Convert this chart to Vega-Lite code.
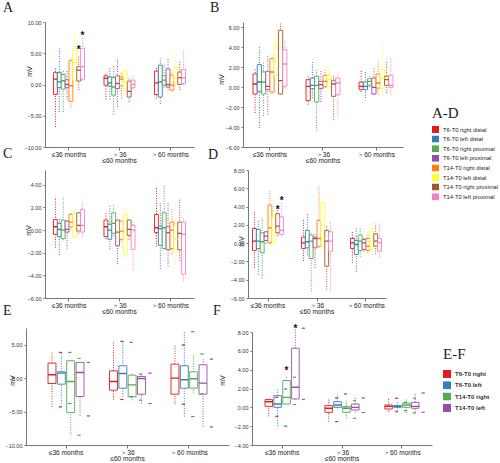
{
"$schema": "https://vega.github.io/schema/vega-lite/v6.json",
"padding": {"left": 3, "top": 0, "right": 0, "bottom": 0},
"config": {"view": {"stroke": null}, "axis": {"grid": false, "labelOverlap": false},
"axisY": {"labelFont": "Liberation Sans", "labelFontSize": 5.5, "labelColor": "#333", "tickSize": 2, "labelPadding": 2, "domainColor": "#777", "tickColor": "#777", "titleFont": "Liberation Sans", "titleFontSize": 7, "titleFontWeight": "normal", "titleColor": "#222"},
"axisX": {"labelFont": "Liberation Sans", "labelFontSize": 6.6, "labelAngle": 0, "labelColor": "#222", "tickSize": 3, "labelPadding": 1, "domainColor": "#777", "tickColor": "#777", "labelLineHeight": 6.2},
"title": {"font": "Liberation Serif", "fontSize": 14, "fontWeight": "normal", "anchor": "start", "frame": "group", "color": "#222"}},
"datasets": {
"A": [
{"g":"≤36 months","s":"T6-T0 right distal","min":-6.8,"q1":-1.6,"med":0.86,"q3":1.9,"max":2.6},
{"g":"≤36 months","s":"T6-T0 left distal","min":-4.4,"q1":-0.5,"med":0.43,"q3":1.9,"max":5.8},
{"g":"≤36 months","s":"T6-T0 right proximal","min":-4.4,"q1":-0.75,"med":0.6,"q3":1.6,"max":2.3},
{"g":"≤36 months","s":"T6-T0 left proximal","min":-2.4,"q1":-0.5,"med":0.0,"q3":0.75,"max":2.3},
{"g":"≤36 months","s":"T14-T0 right distal","min":-3.6,"q1":-2.7,"med":-0.2,"q3":3.8,"max":4.4},
{"g":"≤36 months","s":"T14-T0 left distal","min":0.3,"q1":0.7,"med":3.5,"q3":5.8,"max":8.5},
{"g":"≤36 months","s":"T14-T0 right proximal","min":-0.9,"q1":0.55,"med":2.3,"q3":2.85,"max":4.5},
{"g":"≤36 months","s":"T14-T0 left proximal","min":0.5,"q1":0.86,"med":2.85,"q3":5.8,"max":7.7},
{"g":"＞36 ≤60 months","s":"T6-T0 right distal","min":-2.4,"q1":-0.1,"med":0.97,"q3":1.4,"max":1.9},
{"g":"＞36 ≤60 months","s":"T6-T0 left distal","min":-2.4,"q1":-0.27,"med":0.27,"q3":1.2,"max":2.7},
{"g":"＞36 ≤60 months","s":"T6-T0 right proximal","min":-4.8,"q1":-1.7,"med":-0.4,"q3":1.1,"max":3.1},
{"g":"＞36 ≤60 months","s":"T6-T0 left proximal","min":-3.6,"q1":-0.65,"med":0.16,"q3":1.4,"max":4.1},
{"g":"＞36 ≤60 months","s":"T14-T0 right distal","min":-2.3,"q1":-0.2,"med":0.86,"q3":1.2,"max":1.9},
{"g":"＞36 ≤60 months","s":"T14-T0 left distal","min":-1.2,"q1":-0.65,"med":0.43,"q3":2.15,"max":2.85},
{"g":"＞36 ≤60 months","s":"T14-T0 right proximal","min":-2.8,"q1":-2.0,"med":-1.1,"q3":0.54,"max":1.2},
{"g":"＞36 ≤60 months","s":"T14-T0 left proximal","min":-0.75,"q1":-0.5,"med":0.0,"q3":0.7,"max":1.4},
{"g":"＞60 months","s":"T6-T0 right distal","min":-2.3,"q1":-1.6,"med":0.27,"q3":2.15,"max":2.85},
{"g":"＞60 months","s":"T6-T0 left distal","min":-3.1,"q1":-2.0,"med":0.43,"q3":3.1,"max":4.2},
{"g":"＞60 months","s":"T6-T0 right proximal","min":-0.6,"q1":-0.1,"med":0.7,"q3":1.4,"max":3.4},
{"g":"＞60 months","s":"T6-T0 left proximal","min":-0.9,"q1":-0.4,"med":0.0,"q3":2.5,"max":4.2},
{"g":"＞60 months","s":"T14-T0 right distal","min":-1.1,"q1":-0.9,"med":-0.1,"q3":1.5,"max":1.8},
{"g":"＞60 months","s":"T14-T0 left distal","min":-0.2,"q1":0.43,"med":1.2,"q3":2.7,"max":4.8},
{"g":"＞60 months","s":"T14-T0 right proximal","min":-0.9,"q1":0.0,"med":1.1,"q3":2.0,"max":3.7},
{"g":"＞60 months","s":"T14-T0 left proximal","min":-0.1,"q1":0.16,"med":1.07,"q3":2.4,"max":5.5}
],
"B": [
{"g":"≤36 months","s":"T6-T0 right distal","min":-2.6,"q1":-0.7,"med":0.3,"q3":1.3,"max":1.73},
{"g":"≤36 months","s":"T6-T0 left distal","min":-4.1,"q1":-0.43,"med":0.5,"q3":2.23,"max":4.07},
{"g":"≤36 months","s":"T6-T0 right proximal","min":-2.9,"q1":-0.7,"med":0.5,"q3":1.5,"max":2.57},
{"g":"≤36 months","s":"T6-T0 left proximal","min":-2.77,"q1":-0.27,"med":0.07,"q3":1.57,"max":3.17},
{"g":"≤36 months","s":"T14-T0 right distal","min":-0.7,"q1":-0.5,"med":1.5,"q3":2.83,"max":3.17},
{"g":"≤36 months","s":"T14-T0 left distal","min":0.6,"q1":1.17,"med":2.63,"q3":4.3,"max":5.97},
{"g":"≤36 months","s":"T14-T0 right proximal","min":-0.75,"q1":-0.7,"med":0.63,"q3":5.67,"max":6.5},
{"g":"≤36 months","s":"T14-T0 left proximal","min":-0.1,"q1":0.07,"med":2.3,"q3":3.73,"max":4.73},
{"g":"＞36 ≤60 months","s":"T6-T0 right distal","min":-1.77,"q1":-1.37,"med":0.07,"q3":0.73,"max":1.17},
{"g":"＞36 ≤60 months","s":"T6-T0 left distal","min":-1.1,"q1":-0.17,"med":0.17,"q3":0.9,"max":2.5},
{"g":"＞36 ≤60 months","s":"T6-T0 right proximal","min":-4.37,"q1":-1.5,"med":0.17,"q3":1.07,"max":1.83},
{"g":"＞36 ≤60 months","s":"T6-T0 left proximal","min":-1.5,"q1":-0.17,"med":0.23,"q3":0.57,"max":1.73},
{"g":"＞36 ≤60 months","s":"T14-T0 right distal","min":-0.1,"q1":0.07,"med":0.57,"q3":1.17,"max":1.83},
{"g":"＞36 ≤60 months","s":"T14-T0 left distal","min":-0.3,"q1":-0.03,"med":0.73,"q3":1.17,"max":2.07},
{"g":"＞36 ≤60 months","s":"T14-T0 right proximal","min":-3.27,"q1":-0.93,"med":0.3,"q3":0.63,"max":1.07},
{"g":"＞36 ≤60 months","s":"T14-T0 left proximal","min":-2.93,"q1":-0.77,"med":0.4,"q3":0.9,"max":1.4},
{"g":"＞60 months","s":"T6-T0 right distal","min":-0.5,"q1":-0.27,"med":0.07,"q3":0.5,"max":1.73},
{"g":"＞60 months","s":"T6-T0 left distal","min":-1.1,"q1":-0.27,"med":0.07,"q3":0.5,"max":1.63},
{"g":"＞60 months","s":"T6-T0 right proximal","min":0.0,"q1":0.17,"med":0.57,"q3":0.83,"max":1.17},
{"g":"＞60 months","s":"T6-T0 left proximal","min":-0.77,"q1":-0.7,"med":-0.03,"q3":0.9,"max":1.9},
{"g":"＞60 months","s":"T14-T0 right distal","min":-0.77,"q1":-0.1,"med":0.4,"q3":1.3,"max":2.57},
{"g":"＞60 months","s":"T14-T0 left distal","min":-0.93,"q1":-0.17,"med":0.9,"q3":1.73,"max":4.63},
{"g":"＞60 months","s":"T14-T0 right proximal","min":-0.6,"q1":0.17,"med":0.73,"q3":1.07,"max":2.63},
{"g":"＞60 months","s":"T14-T0 left proximal","min":-0.77,"q1":-0.03,"med":0.17,"q3":1.17,"max":2.9}
],
"C": [
{"g":"≤36 months","s":"T6-T0 right distal","min":-1.55,"q1":-0.38,"med":0.29,"q3":0.94,"max":2.9},
{"g":"≤36 months","s":"T6-T0 left distal","min":-2.2,"q1":-0.58,"med":0.06,"q3":0.58,"max":1.08},
{"g":"≤36 months","s":"T6-T0 right proximal","min":-0.9,"q1":-0.76,"med":0.0,"q3":0.88,"max":2.9},
{"g":"≤36 months","s":"T6-T0 left proximal","min":-1.64,"q1":-0.18,"med":0.06,"q3":0.79,"max":0.94},
{"g":"≤36 months","s":"T14-T0 right distal","min":0.1,"q1":0.29,"med":0.7,"q3":1.37,"max":1.52},
{"g":"≤36 months","s":"T14-T0 left distal","min":-0.75,"q1":-0.58,"med":0.35,"q3":1.46,"max":2.16},
{"g":"≤36 months","s":"T14-T0 right proximal","min":-0.3,"q1":-0.09,"med":0.41,"q3":1.52,"max":1.58},
{"g":"≤36 months","s":"T14-T0 left proximal","min":-0.58,"q1":-0.18,"med":0.41,"q3":1.81,"max":2.54},
{"g":"＞36 ≤60 months","s":"T6-T0 right distal","min":-0.8,"q1":-0.58,"med":0.29,"q3":0.88,"max":1.58},
{"g":"＞36 ≤60 months","s":"T6-T0 left distal","min":-1.7,"q1":-0.82,"med":0.0,"q3":0.5,"max":2.25},
{"g":"＞36 ≤60 months","s":"T6-T0 right proximal","min":-0.55,"q1":-0.29,"med":0.58,"q3":1.52,"max":2.25},
{"g":"＞36 ≤60 months","s":"T6-T0 left proximal","min":-3.0,"q1":-1.4,"med":-0.18,"q3":0.88,"max":0.94},
{"g":"＞36 ≤60 months","s":"T14-T0 right distal","min":-1.05,"q1":-0.82,"med":-0.09,"q3":0.79,"max":0.88},
{"g":"＞36 ≤60 months","s":"T14-T0 left distal","min":-2.57,"q1":-2.13,"med":-0.18,"q3":1.37,"max":2.1},
{"g":"＞36 ≤60 months","s":"T14-T0 right proximal","min":-0.85,"q1":-0.47,"med":0.06,"q3":0.88,"max":0.94},
{"g":"＞36 ≤60 months","s":"T14-T0 left proximal","min":-3.54,"q1":-1.7,"med":0.0,"q3":0.41,"max":0.7},
{"g":"＞60 months","s":"T6-T0 right distal","min":-1.46,"q1":-0.23,"med":0.2,"q3":1.37,"max":3.8},
{"g":"＞60 months","s":"T6-T0 left distal","min":-3.4,"q1":-1.35,"med":0.12,"q3":0.35,"max":2.4},
{"g":"＞60 months","s":"T6-T0 right proximal","min":-1.7,"q1":-1.64,"med":0.2,"q3":1.52,"max":3.92},
{"g":"＞60 months","s":"T6-T0 left proximal","min":-3.2,"q1":-1.75,"med":-0.23,"q3":0.29,"max":2.4},
{"g":"＞60 months","s":"T14-T0 right distal","min":-2.2,"q1":-1.64,"med":0.0,"q3":0.7,"max":1.96},
{"g":"＞60 months","s":"T14-T0 left distal","min":-3.0,"q1":-1.7,"med":-0.82,"q3":0.35,"max":1.08},
{"g":"＞60 months","s":"T14-T0 right proximal","min":-2.7,"q1":-1.75,"med":-0.29,"q3":0.7,"max":2.84},
{"g":"＞60 months","s":"T14-T0 left proximal","min":-4.56,"q1":-3.9,"med":-0.38,"q3":0.7,"max":1.08}
],
"D": [
{"g":"≤36 months","s":"T6-T0 right distal","min":-2.7,"q1":-0.8,"med":0.22,"q3":1.61,"max":3.58},
{"g":"≤36 months","s":"T6-T0 left distal","min":-3.44,"q1":-0.58,"med":0.22,"q3":1.5,"max":2.41},
{"g":"≤36 months","s":"T6-T0 right proximal","min":-3.87,"q1":-1.06,"med":0.15,"q3":1.13,"max":2.78},
{"g":"≤36 months","s":"T6-T0 left proximal","min":-0.1,"q1":0.29,"med":0.77,"q3":1.24,"max":1.32},
{"g":"≤36 months","s":"T14-T0 right distal","min":-0.1,"q1":0.04,"med":1.68,"q3":4.17,"max":5.88},
{"g":"≤36 months","s":"T14-T0 left distal","min":-0.33,"q1":0.15,"med":1.39,"q3":2.78,"max":3.69},
{"g":"≤36 months","s":"T14-T0 right proximal","min":0.77,"q1":1.13,"med":1.86,"q3":3.22,"max":3.87},
{"g":"≤36 months","s":"T14-T0 left proximal","min":0.7,"q1":0.95,"med":1.39,"q3":2.85,"max":4.42},
{"g":"＞36 ≤60 months","s":"T6-T0 right distal","min":-1.97,"q1":-0.58,"med":0.04,"q3":0.66,"max":2.6},
{"g":"＞36 ≤60 months","s":"T6-T0 left distal","min":-1.32,"q1":-0.51,"med":0.15,"q3":1.39,"max":3.33},
{"g":"＞36 ≤60 months","s":"T6-T0 right proximal","min":-5.26,"q1":-1.68,"med":0.22,"q3":0.88,"max":1.13},
{"g":"＞36 ≤60 months","s":"T6-T0 left proximal","min":-2.7,"q1":-0.51,"med":0.51,"q3":0.66,"max":1.13},
{"g":"＞36 ≤60 months","s":"T14-T0 right distal","min":-0.5,"q1":-0.33,"med":0.51,"q3":2.49,"max":6.36},
{"g":"＞36 ≤60 months","s":"T14-T0 left distal","min":-0.5,"q1":-0.33,"med":0.51,"q3":4.42,"max":5.0},
{"g":"＞36 ≤60 months","s":"T14-T0 right proximal","min":-5.08,"q1":-2.52,"med":0.22,"q3":1.39,"max":1.86},
{"g":"＞36 ≤60 months","s":"T14-T0 left proximal","min":-5.26,"q1":-0.88,"med":0.22,"q3":1.24,"max":2.23},
{"g":"＞60 months","s":"T6-T0 right distal","min":-2.16,"q1":-0.58,"med":0.04,"q3":0.51,"max":1.32},
{"g":"＞60 months","s":"T6-T0 left distal","min":-3.14,"q1":-1.24,"med":-0.15,"q3":0.29,"max":1.61},
{"g":"＞60 months","s":"T6-T0 right proximal","min":-1.5,"q1":-0.8,"med":0.22,"q3":0.88,"max":1.68},
{"g":"＞60 months","s":"T6-T0 left proximal","min":-0.9,"q1":-0.69,"med":0.04,"q3":0.4,"max":0.66},
{"g":"＞60 months","s":"T14-T0 right distal","min":-1.1,"q1":-0.8,"med":-0.33,"q3":0.51,"max":1.13},
{"g":"＞60 months","s":"T14-T0 left distal","min":-1.54,"q1":-0.69,"med":0.22,"q3":1.32,"max":2.12},
{"g":"＞60 months","s":"T14-T0 right proximal","min":-1.2,"q1":-0.33,"med":0.22,"q3":1.02,"max":2.12},
{"g":"＞60 months","s":"T14-T0 left proximal","min":-1.54,"q1":-0.88,"med":0.04,"q3":0.51,"max":2.23}
],
"E": [
{"g":"≤36 months","s":"T6-T0 right","min":-4.3,"q1":-0.8,"med":0.5,"q3":2.25,"max":3.85},
{"g":"≤36 months","s":"T6-T0 left","min":-3.8,"q1":-0.9,"med":0.75,"q3":0.95,"max":3.85},
{"g":"≤36 months","s":"T14-T0 right","min":-8.55,"q1":-5.15,"med":-0.5,"q3":2.6,"max":2.95},
{"g":"≤36 months","s":"T14-T0 left","min":-5.65,"q1":-2.75,"med":0.85,"q3":2.35,"max":2.35},
{"g":"＞36 ≤60 months","s":"T6-T0 right","min":-3.2,"q1":-1.8,"med":-0.5,"q3":1.1,"max":5.5},
{"g":"＞36 ≤60 months","s":"T6-T0 left","min":-2.75,"q1":-1.5,"med":0.7,"q3":1.85,"max":5.35},
{"g":"＞36 ≤60 months","s":"T14-T0 right","min":-3.3,"q1":-2.8,"med":-1.0,"q3":0.45,"max":0.6},
{"g":"＞36 ≤60 months","s":"T14-T0 left","min":-3.8,"q1":-2.4,"med":-0.05,"q3":0.25,"max":0.75},
{"g":"＞60 months","s":"T6-T0 right","min":-3.9,"q1":-2.4,"med":0.0,"q3":2.1,"max":4.95},
{"g":"＞60 months","s":"T6-T0 left","min":-5.75,"q1":-1.5,"med":-0.25,"q3":1.85,"max":6.95},
{"g":"＞60 months","s":"T14-T0 right","min":-2.3,"q1":-1.5,"med":-0.1,"q3":0.95,"max":3.6},
{"g":"＞60 months","s":"T14-T0 left","min":-7.3,"q1":-2.4,"med":-0.75,"q3":2.0,"max":2.85}
],
"F": [
{"g":"≤36 months","s":"T6-T0 right","min":-0.96,"q1":0.1,"med":0.6,"q3":0.82,"max":1.06},
{"g":"≤36 months","s":"T6-T0 left","min":-2.0,"q1":0.0,"med":0.35,"q3":1.24,"max":1.95},
{"g":"≤36 months","s":"T14-T0 right","min":0.3,"q1":0.35,"med":1.06,"q3":2.84,"max":3.2},
{"g":"≤36 months","s":"T14-T0 left","min":0.85,"q1":0.89,"med":2.13,"q3":6.28,"max":8.4},
{"g":"＞36 ≤60 months","s":"T6-T0 right","min":-1.52,"q1":-0.53,"med":-0.1,"q3":0.18,"max":0.99},
{"g":"＞36 ≤60 months","s":"T6-T0 left","min":-0.1,"q1":0.0,"med":0.25,"q3":0.6,"max":1.42},
{"g":"＞36 ≤60 months","s":"T14-T0 right","min":-1.17,"q1":-0.53,"med":-0.1,"q3":0.1,"max":0.71},
{"g":"＞36 ≤60 months","s":"T14-T0 left","min":-0.55,"q1":-0.28,"med":0.0,"q3":0.35,"max":0.99},
{"g":"＞60 months","s":"T6-T0 right","min":-0.46,"q1":-0.18,"med":0.1,"q3":0.25,"max":0.96},
{"g":"＞60 months","s":"T6-T0 left","min":-0.35,"q1":0.0,"med":0.1,"q3":0.18,"max":0.53},
{"g":"＞60 months","s":"T14-T0 right","min":-0.6,"q1":0.0,"med":0.25,"q3":0.46,"max":0.96},
{"g":"＞60 months","s":"T14-T0 left","min":-0.53,"q1":-0.1,"med":0.1,"q3":0.53,"max":1.52}
],
"stars": [
{"p":"A","g":"≤36 months","s":"T14-T0 right proximal","v":5.97},
{"p":"A","g":"≤36 months","s":"T14-T0 left proximal","v":8.2},
{"p":"D","g":"≤36 months","s":"T14-T0 right proximal","v":3.95},
{"p":"D","g":"≤36 months","s":"T14-T0 left proximal","v":4.9},
{"p":"F","g":"≤36 months","s":"T14-T0 right","v":4.18},
{"p":"F","g":"≤36 months","s":"T14-T0 left","v":8.69}
]
},
"resolve": {"scale": {"xOffset": "independent"}},
"columns": 2,
"bounds": "flush",
"align": "all",
"spacing": {"row": 20, "column": 14},
"concat": [
{
"width": 168, "height": 125,
"title": {"text": "A", "dx": -23, "offset": 5},
"encoding": {
"x": {"field": "g", "type": "nominal", "scale": {"domain": ["≤36 months","＞36 ≤60 months","＞60 months"], "range": [19, 168], "paddingInner": 0.386, "paddingOuter": 0.168}, "axis": {"title": null, "labelExpr": "datum.label == '＞36 ≤60 months' ? ['＞36', '≤60 months'] : datum.label"}},
"xOffset": {"field": "s", "type": "nominal", "scale": {"domain": ["T6-T0 right distal","T6-T0 left distal","T6-T0 right proximal","T6-T0 left proximal","T14-T0 right distal","T14-T0 left distal","T14-T0 right proximal","T14-T0 left proximal"], "paddingInner": 0}}
},
"layer": [
{"data": {"name": "A"}, "mark": {"type": "rule", "strokeDash": [1, 1.5], "strokeWidth": 1}, "encoding": {
"y": {"field": "min", "type": "quantitative", "scale": {"domain": [-10, 10], "nice": false, "zero": false}, "axis": {"title": "mV", "offset": -19, "values": [-10, -5, 0, 5, 10], "labelOverlap": false, "format": ".2f", "titleX": -13, "titleY": 49}},
"y2": {"field": "max"},
"stroke": {"field": "s", "type": "nominal", "scale": {"domain": ["T6-T0 right distal","T6-T0 left distal","T6-T0 right proximal","T6-T0 left proximal","T14-T0 right distal","T14-T0 left distal","T14-T0 right proximal","T14-T0 left proximal"], "range": ["#e41a1c","#377eb8","#4daf4a","#984ea3","#ff7f00","#ffff33","#a65628","#f781bf"]}, "legend": {"title": "A-D", "orient": "none", "legendX": 406, "legendY": 84, "titleFont": "Liberation Serif", "titleFontSize": 15, "titleFontWeight": "normal", "titleColor": "#222", "titlePadding": 5, "labelFont": "Liberation Sans", "labelFontSize": 5.8, "labelColor": "#222", "symbolType": "square", "symbolSize": 49, "symbolStrokeWidth": 0, "clipHeight": 7, "rowPadding": 2.6, "labelOffset": 4, "encode": {"symbols": {"update": {"fill": {"scale": "stroke", "field": "value"}, "stroke": {"value": "transparent"}}}}}}
}},
{"data": {"name": "A"}, "mark": {"type": "bar", "fill": "white", "strokeWidth": 0.9}, "encoding": {"y": {"field": "q1", "type": "quantitative", "axis": {"title": "mV", "offset": -19, "values": [-10, -5, 0, 5, 10], "labelOverlap": false, "format": ".2f", "titleX": -13, "titleY": 49}}, "y2": {"field": "q3"}, "stroke": {"field": "s", "type": "nominal", "scale": {"domain": ["T6-T0 right distal","T6-T0 left distal","T6-T0 right proximal","T6-T0 left proximal","T14-T0 right distal","T14-T0 left distal","T14-T0 right proximal","T14-T0 left proximal"], "range": ["#e41a1c","#377eb8","#4daf4a","#984ea3","#ff7f00","#ffff33","#a65628","#f781bf"]}}}},
{"data": {"name": "A"}, "mark": {"type": "bar", "fill": "white", "strokeWidth": 1.3}, "encoding": {"y": {"field": "med", "type": "quantitative", "axis": {"title": "mV", "offset": -19, "values": [-10, -5, 0, 5, 10], "labelOverlap": false, "format": ".2f", "titleX": -13, "titleY": 49}}, "y2": {"field": "med"}, "stroke": {"field": "s", "type": "nominal", "scale": {"domain": ["T6-T0 right distal","T6-T0 left distal","T6-T0 right proximal","T6-T0 left proximal","T14-T0 right distal","T14-T0 left distal","T14-T0 right proximal","T14-T0 left proximal"], "range": ["#e41a1c","#377eb8","#4daf4a","#984ea3","#ff7f00","#ffff33","#a65628","#f781bf"]}}}},
{"data": {"name": "stars"}, "transform": [{"filter": "datum.p == 'A'"}], "mark": {"type": "text", "text": "*", "fontSize": 10, "fontWeight": "bold", "color": "#111", "baseline": "middle", "dy": 3}, "encoding": {"y": {"field": "v", "type": "quantitative", "axis": {"title": "mV", "offset": -19, "values": [-10, -5, 0, 5, 10], "labelOverlap": false, "format": ".2f", "titleX": -13, "titleY": 49}}}}
]
},
{
"width": 160, "height": 125,
"title": {"text": "B", "dx": -33, "offset": 7},
"encoding": {
"x": {"field": "g", "type": "nominal", "scale": {"domain": ["≤36 months","＞36 ≤60 months","＞60 months"], "paddingInner": 0.36, "paddingOuter": 0.188}, "axis": {"title": null, "labelExpr": "datum.label == '＞36 ≤60 months' ? ['＞36', '≤60 months'] : datum.label"}},
"xOffset": {"field": "s", "type": "nominal", "scale": {"domain": ["T6-T0 right distal","T6-T0 left distal","T6-T0 right proximal","T6-T0 left proximal","T14-T0 right distal","T14-T0 left distal","T14-T0 right proximal","T14-T0 left proximal"], "paddingInner": 0}},
"stroke": {"field": "s", "type": "nominal", "scale": {"domain": ["T6-T0 right distal","T6-T0 left distal","T6-T0 right proximal","T6-T0 left proximal","T14-T0 right distal","T14-T0 left distal","T14-T0 right proximal","T14-T0 left proximal"], "range": ["#e41a1c","#377eb8","#4daf4a","#984ea3","#ff7f00","#ffff33","#a65628","#f781bf"]}}
},
"data": {"name": "B"},
"layer": [
{"mark": {"type": "rule", "strokeDash": [1, 1.5], "strokeWidth": 1}, "encoding": {
"y": {"field": "min", "type": "quantitative", "scale": {"domain": [-6, 6.5], "nice": false, "zero": false}, "axis": {"title": "mV", "values": [-6, -4, -2, 0, 2, 4, 6], "labelOverlap": false, "format": ".2f", "titleX": -19, "titleY": 57}},
"y2": {"field": "max"}}},
{"mark": {"type": "bar", "fill": "white", "strokeWidth": 0.9}, "encoding": {"y": {"field": "q1", "type": "quantitative", "axis": {"title": "mV", "values": [-6, -4, -2, 0, 2, 4, 6], "labelOverlap": false, "format": ".2f", "titleX": -19, "titleY": 57}}, "y2": {"field": "q3"}}},
{"mark": {"type": "bar", "fill": "white", "strokeWidth": 1.3}, "encoding": {"y": {"field": "med", "type": "quantitative", "axis": {"title": "mV", "values": [-6, -4, -2, 0, 2, 4, 6], "labelOverlap": false, "format": ".2f", "titleX": -19, "titleY": 57}}, "y2": {"field": "med"}}}
]
},
{
"width": 168, "height": 128,
"title": {"text": "C", "dx": -23, "offset": 9},
"encoding": {
"x": {"field": "g", "type": "nominal", "scale": {"domain": ["≤36 months","＞36 ≤60 months","＞60 months"], "range": [19, 168], "paddingInner": 0.386, "paddingOuter": 0.168}, "axis": {"title": null, "labelExpr": "datum.label == '＞36 ≤60 months' ? ['＞36', '≤60 months'] : datum.label"}},
"xOffset": {"field": "s", "type": "nominal", "scale": {"domain": ["T6-T0 right distal","T6-T0 left distal","T6-T0 right proximal","T6-T0 left proximal","T14-T0 right distal","T14-T0 left distal","T14-T0 right proximal","T14-T0 left proximal"], "paddingInner": 0}},
"stroke": {"field": "s", "type": "nominal", "scale": {"domain": ["T6-T0 right distal","T6-T0 left distal","T6-T0 right proximal","T6-T0 left proximal","T14-T0 right distal","T14-T0 left distal","T14-T0 right proximal","T14-T0 left proximal"], "range": ["#e41a1c","#377eb8","#4daf4a","#984ea3","#ff7f00","#ffff33","#a65628","#f781bf"]}}
},
"data": {"name": "C"},
"layer": [
{"mark": {"type": "rule", "strokeDash": [1, 1.5], "strokeWidth": 1}, "encoding": {
"y": {"field": "min", "type": "quantitative", "scale": {"domain": [-6, 5.3], "nice": false, "zero": false}, "axis": {"title": "mV", "offset": -19, "values": [-6, -4, -2, 0, 2, 4], "labelOverlap": false, "format": ".2f", "titleX": -14, "titleY": 60}},
"y2": {"field": "max"}}},
{"mark": {"type": "bar", "fill": "white", "strokeWidth": 0.9}, "encoding": {"y": {"field": "q1", "type": "quantitative", "axis": {"title": "mV", "offset": -19, "values": [-6, -4, -2, 0, 2, 4], "labelOverlap": false, "format": ".2f", "titleX": -14, "titleY": 60}}, "y2": {"field": "q3"}}},
{"mark": {"type": "bar", "fill": "white", "strokeWidth": 1.3}, "encoding": {"y": {"field": "med", "type": "quantitative", "axis": {"title": "mV", "offset": -19, "values": [-6, -4, -2, 0, 2, 4], "labelOverlap": false, "format": ".2f", "titleX": -14, "titleY": 60}}, "y2": {"field": "med"}}}
]
},
{
"width": 143, "height": 128,
"title": {"text": "D", "dx": -35, "offset": 6},
"encoding": {
"x": {"field": "g", "type": "nominal", "scale": {"domain": ["≤36 months","＞36 ≤60 months","＞60 months"], "range": [5, 143], "paddingInner": 0.367, "paddingOuter": 0.092}, "axis": {"title": null, "labelExpr": "datum.label == '＞36 ≤60 months' ? ['＞36', '≤60 months'] : datum.label"}},
"xOffset": {"field": "s", "type": "nominal", "scale": {"domain": ["T6-T0 right distal","T6-T0 left distal","T6-T0 right proximal","T6-T0 left proximal","T14-T0 right distal","T14-T0 left distal","T14-T0 right proximal","T14-T0 left proximal"], "paddingInner": 0}}
},
"layer": [
{"data": {"name": "D"}, "mark": {"type": "rule", "strokeDash": [1, 1.5], "strokeWidth": 1}, "encoding": {
"y": {"field": "min", "type": "quantitative", "scale": {"domain": [-6, 8], "nice": false, "zero": false}, "axis": {"title": "mV", "offset": -5, "values": [-6, -4, -2, 0, 2, 4, 6, 8], "labelOverlap": false, "format": ".2f", "titleX": -4, "titleY": 71}},
"y2": {"field": "max"},
"stroke": {"field": "s", "type": "nominal", "scale": {"domain": ["T6-T0 right distal","T6-T0 left distal","T6-T0 right proximal","T6-T0 left proximal","T14-T0 right distal","T14-T0 left distal","T14-T0 right proximal","T14-T0 left proximal"], "range": ["#e41a1c","#377eb8","#4daf4a","#984ea3","#ff7f00","#ffff33","#a65628","#f781bf"]}}}},
{"data": {"name": "D"}, "mark": {"type": "bar", "fill": "white", "strokeWidth": 0.9}, "encoding": {"y": {"field": "q1", "type": "quantitative", "axis": {"title": "mV", "offset": -5, "values": [-6, -4, -2, 0, 2, 4, 6, 8], "labelOverlap": false, "format": ".2f", "titleX": -4, "titleY": 71}}, "y2": {"field": "q3"}, "stroke": {"field": "s", "type": "nominal", "scale": {"domain": ["T6-T0 right distal","T6-T0 left distal","T6-T0 right proximal","T6-T0 left proximal","T14-T0 right distal","T14-T0 left distal","T14-T0 right proximal","T14-T0 left proximal"], "range": ["#e41a1c","#377eb8","#4daf4a","#984ea3","#ff7f00","#ffff33","#a65628","#f781bf"]}}}},
{"data": {"name": "D"}, "mark": {"type": "bar", "fill": "white", "strokeWidth": 1.3}, "encoding": {"y": {"field": "med", "type": "quantitative", "axis": {"title": "mV", "offset": -5, "values": [-6, -4, -2, 0, 2, 4, 6, 8], "labelOverlap": false, "format": ".2f", "titleX": -4, "titleY": 71}}, "y2": {"field": "med"}, "stroke": {"field": "s", "type": "nominal", "scale": {"domain": ["T6-T0 right distal","T6-T0 left distal","T6-T0 right proximal","T6-T0 left proximal","T14-T0 right distal","T14-T0 left distal","T14-T0 right proximal","T14-T0 left proximal"], "range": ["#e41a1c","#377eb8","#4daf4a","#984ea3","#ff7f00","#ffff33","#a65628","#f781bf"]}}}},
{"data": {"name": "stars"}, "transform": [{"filter": "datum.p == 'D'"}], "mark": {"type": "text", "text": "*", "fontSize": 10, "fontWeight": "bold", "color": "#111", "baseline": "middle", "dy": 3}, "encoding": {"y": {"field": "v", "type": "quantitative", "axis": {"title": "mV", "offset": -5, "values": [-6, -4, -2, 0, 2, 4, 6, 8], "labelOverlap": false, "format": ".2f", "titleX": -4, "titleY": 71}}}}
]
},
{
"width": 203, "height": 127,
"title": {"text": "E", "dx": -23, "offset": 0},
"encoding": {
"x": {"field": "g", "type": "nominal", "scale": {"domain": ["≤36 months","＞36 ≤60 months","＞60 months"], "paddingInner": 0.415, "paddingOuter": 0.358}, "axis": {"title": null, "labelExpr": "datum.label == '＞36 ≤60 months' ? ['＞36', '≤60 months'] : datum.label"}},
"xOffset": {"field": "s", "type": "nominal", "scale": {"domain": ["T6-T0 right","T6-T0 left","T14-T0 right","T14-T0 left"], "paddingInner": 0.15}},
"color": {"field": "s", "type": "nominal", "scale": {"domain": ["T6-T0 right","T6-T0 left","T14-T0 right","T14-T0 left"], "range": ["#e41a1c","#377eb8","#4daf4a","#984ea3"]}, "legend": {"title": "E-F", "orient": "none", "legendX": 417, "legendY": 325, "titleFont": "Liberation Serif", "titleFontSize": 15, "titleFontWeight": "normal", "titleColor": "#222", "titlePadding": 8, "labelFont": "Liberation Sans", "labelFontSize": 6, "labelFontWeight": "bold", "labelColor": "#333", "symbolType": "square", "symbolSize": 64, "symbolStrokeWidth": 0, "clipHeight": 8, "rowPadding": 3.3, "labelOffset": 4, "encode": {"symbols": {"update": {"fill": {"scale": "color", "field": "value"}, "stroke": {"value": "transparent"}}}}}}
},
"data": {"name": "E"},
"layer": [
{"mark": {"type": "rule", "strokeDash": [1, 1.5], "strokeWidth": 1}, "encoding": {
"y": {"field": "min", "type": "quantitative", "scale": {"domain": [-10, 7.5], "range": [127, 10], "nice": false, "zero": false}, "axis": {"title": "mV", "values": [-10, -5, 0, 5], "labelOverlap": false, "format": ".2f", "titleX": -11, "titleY": 62}},
"y2": {"field": "q1"}}},
{"mark": {"type": "rule", "strokeDash": [1, 1.5], "strokeWidth": 1}, "encoding": {"y": {"field": "q3", "type": "quantitative", "axis": {"title": "mV", "values": [-10, -5, 0, 5], "labelOverlap": false, "format": ".2f", "titleX": -11, "titleY": 62}}, "y2": {"field": "max"}}},
{"mark": {"type": "bar", "filled": false, "strokeWidth": 0.9}, "encoding": {"y": {"field": "q1", "type": "quantitative", "axis": {"title": "mV", "values": [-10, -5, 0, 5], "labelOverlap": false, "format": ".2f", "titleX": -11, "titleY": 62}}, "y2": {"field": "q3"}}},
{"mark": {"type": "bar", "filled": false, "strokeWidth": 1.4}, "encoding": {"y": {"field": "med", "type": "quantitative", "axis": {"title": "mV", "values": [-10, -5, 0, 5], "labelOverlap": false, "format": ".2f", "titleX": -11, "titleY": 62}}, "y2": {"field": "med"}}},
{"mark": {"type": "bar", "filled": false, "strokeWidth": 0.8, "width": {"band": 0.4}}, "encoding": {"y": {"field": "min", "type": "quantitative", "axis": {"title": "mV", "values": [-10, -5, 0, 5], "labelOverlap": false, "format": ".2f", "titleX": -11, "titleY": 62}}, "y2": {"field": "min"}}},
{"mark": {"type": "bar", "filled": false, "strokeWidth": 0.8, "width": {"band": 0.4}}, "encoding": {"y": {"field": "max", "type": "quantitative", "axis": {"title": "mV", "values": [-10, -5, 0, 5], "labelOverlap": false, "format": ".2f", "titleX": -11, "titleY": 62}}, "y2": {"field": "max"}}}
]
},
{
"width": 189, "height": 127,
"title": {"text": "F", "dx": -30, "offset": 0},
"encoding": {
"x": {"field": "g", "type": "nominal", "scale": {"domain": ["≤36 months","＞36 ≤60 months","＞60 months"], "range": [9, 189], "paddingInner": 0.43, "paddingOuter": 0.217}, "axis": {"title": null, "labelExpr": "datum.label == '＞36 ≤60 months' ? ['＞36', '≤60 months'] : datum.label"}},
"xOffset": {"field": "s", "type": "nominal", "scale": {"domain": ["T6-T0 right","T6-T0 left","T14-T0 right","T14-T0 left"], "paddingInner": 0.15}}
},
"layer": [
{"data": {"name": "F"}, "mark": {"type": "rule", "strokeDash": [1, 1.5], "strokeWidth": 1}, "encoding": {
"y": {"field": "min", "type": "quantitative", "scale": {"domain": [-4, 8], "range": [127, 14], "nice": false, "zero": false}, "axis": {"title": "mV", "offset": -9, "values": [-4, -2, 0, 2, 4, 6, 8], "labelOverlap": false, "format": ".2f", "titleX": -27, "titleY": 62}},
"y2": {"field": "q1"},
"color": {"field": "s", "type": "nominal", "scale": {"domain": ["T6-T0 right","T6-T0 left","T14-T0 right","T14-T0 left"], "range": ["#e41a1c","#377eb8","#4daf4a","#984ea3"]}}}},
{"data": {"name": "F"}, "mark": {"type": "rule", "strokeDash": [1, 1.5], "strokeWidth": 1}, "encoding": {"y": {"field": "q3", "type": "quantitative", "axis": {"title": "mV", "offset": -9, "values": [-4, -2, 0, 2, 4, 6, 8], "labelOverlap": false, "format": ".2f", "titleX": -27, "titleY": 62}}, "y2": {"field": "max"}, "color": {"field": "s", "type": "nominal", "scale": {"domain": ["T6-T0 right","T6-T0 left","T14-T0 right","T14-T0 left"], "range": ["#e41a1c","#377eb8","#4daf4a","#984ea3"]}}}},
{"data": {"name": "F"}, "mark": {"type": "bar", "filled": false, "strokeWidth": 0.9}, "encoding": {"y": {"field": "q1", "type": "quantitative", "axis": {"title": "mV", "offset": -9, "values": [-4, -2, 0, 2, 4, 6, 8], "labelOverlap": false, "format": ".2f", "titleX": -27, "titleY": 62}}, "y2": {"field": "q3"}, "color": {"field": "s", "type": "nominal", "scale": {"domain": ["T6-T0 right","T6-T0 left","T14-T0 right","T14-T0 left"], "range": ["#e41a1c","#377eb8","#4daf4a","#984ea3"]}}}},
{"data": {"name": "F"}, "mark": {"type": "bar", "filled": false, "strokeWidth": 1.4}, "encoding": {"y": {"field": "med", "type": "quantitative", "axis": {"title": "mV", "offset": -9, "values": [-4, -2, 0, 2, 4, 6, 8], "labelOverlap": false, "format": ".2f", "titleX": -27, "titleY": 62}}, "y2": {"field": "med"}, "color": {"field": "s", "type": "nominal", "scale": {"domain": ["T6-T0 right","T6-T0 left","T14-T0 right","T14-T0 left"], "range": ["#e41a1c","#377eb8","#4daf4a","#984ea3"]}}}},
{"data": {"name": "F"}, "mark": {"type": "bar", "filled": false, "strokeWidth": 0.8, "width": {"band": 0.4}}, "encoding": {"y": {"field": "min", "type": "quantitative", "axis": {"title": "mV", "offset": -9, "values": [-4, -2, 0, 2, 4, 6, 8], "labelOverlap": false, "format": ".2f", "titleX": -27, "titleY": 62}}, "y2": {"field": "min"}, "color": {"field": "s", "type": "nominal", "scale": {"domain": ["T6-T0 right","T6-T0 left","T14-T0 right","T14-T0 left"], "range": ["#e41a1c","#377eb8","#4daf4a","#984ea3"]}}}},
{"data": {"name": "F"}, "mark": {"type": "bar", "filled": false, "strokeWidth": 0.8, "width": {"band": 0.4}}, "encoding": {"y": {"field": "max", "type": "quantitative", "axis": {"title": "mV", "offset": -9, "values": [-4, -2, 0, 2, 4, 6, 8], "labelOverlap": false, "format": ".2f", "titleX": -27, "titleY": 62}}, "y2": {"field": "max"}, "color": {"field": "s", "type": "nominal", "scale": {"domain": ["T6-T0 right","T6-T0 left","T14-T0 right","T14-T0 left"], "range": ["#e41a1c","#377eb8","#4daf4a","#984ea3"]}}}},
{"data": {"name": "stars"}, "transform": [{"filter": "datum.p == 'F'"}], "mark": {"type": "text", "text": "*", "fontSize": 10, "fontWeight": "bold", "color": "#111", "baseline": "middle", "dy": 3}, "encoding": {"y": {"field": "v", "type": "quantitative", "axis": {"title": "mV", "offset": -9, "values": [-4, -2, 0, 2, 4, 6, 8], "labelOverlap": false, "format": ".2f", "titleX": -27, "titleY": 62}}}}
]
}
]
}
